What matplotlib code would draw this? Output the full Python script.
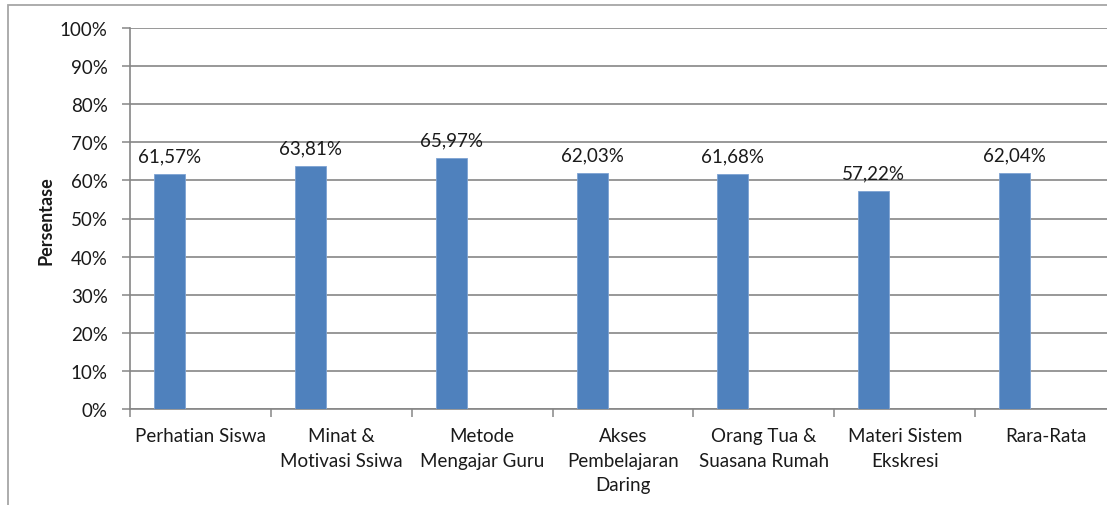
import numpy as np
import matplotlib
matplotlib.use("Agg")
import matplotlib.pyplot as plt
from matplotlib.patches import Rectangle

# data
categories = ["Perhatian Siswa", "Minat &\nMotivasi Ssiwa", "Metode\nMengajar Guru",
              "Akses\nPembelajaran\nDaring", "Orang Tua &\nSuasana Rumah",
              "Materi Sistem\nEkskresi", "Rara-Rata"]
values = [61.57, 63.81, 65.97, 62.03, 61.68, 57.22, 62.04]
value_labels = ["61,57%", "63,81%", "65,97%", "62,03%", "61,68%", "57,22%", "62,04%"]
y_ticks = list(range(0, 101, 10))

BAR_COLOR = "#4F81BD"
GRID_COLOR = "#868686"

plt.rcParams['font.family'] = ['Lato', 'DejaVu Sans']

W, H = 1107, 506
fig = plt.figure(figsize=(W / 100, H / 100), dpi=100)

# outer chart border (cropped on the right and bottom in the reference)
fig.patches.append(Rectangle((7.5 / W, -0.1), 1.2, 1 - 5.5 / H + 0.1,
                             transform=fig.transFigure, fill=False,
                             edgecolor="#a6a6a6", linewidth=1.3))

# plot area runs a little past the right edge of the image
left, right, top, bottom = 130, 1116, 29, 410
ax = fig.add_axes([left / W, 1 - bottom / H, (right - left) / W, (bottom - top) / H])

x = np.arange(len(categories))
bar_w = 0.22
ax.bar(x - 0.22, values, width=bar_w, color=BAR_COLOR, edgecolor="#7ea3d3",
       linewidth=0.6, zorder=3)

for xi, v, lab in zip(x, values, value_labels):
    ax.annotate(lab, (xi - 0.22, v), xytext=(0, 7), textcoords="offset points",
                ha="center", va="bottom", fontsize=13.5, color="#1a1a1a")

ax.set_xlim(-0.5, len(categories) - 0.5)
ax.set_ylim(0, 100)
ax.set_yticks(y_ticks)
ax.set_yticklabels([f"{t}%" for t in y_ticks])
ax.yaxis.grid(True, color=GRID_COLOR, linewidth=1.2, zorder=0)
ax.set_axisbelow(True)

ax.set_xticks(x)
ax.set_xticklabels(categories, fontsize=13.5, linespacing=1.55)
ax.set_xticks(np.arange(len(categories) + 1) - 0.5, minor=True)
ax.tick_params(axis="x", which="major", length=0, pad=13, colors="#1a1a1a")
ax.tick_params(axis="x", which="minor", length=6, width=1.1, color=GRID_COLOR)
ax.tick_params(axis="y", length=6, width=1.1, color=GRID_COLOR, pad=10,
               labelsize=13.5, labelcolor="#1a1a1a")

for s in ["top", "right"]:
    ax.spines[s].set_visible(False)
for s in ["left", "bottom"]:
    ax.spines[s].set_color(GRID_COLOR)
    ax.spines[s].set_linewidth(1.2)

fig.text(46 / W, 1 - 221 / H, "Persentase", rotation=90, ha="center", va="center",
         fontsize=13, fontweight="bold", color="#1a1a1a")

fig.savefig("out.png", dpi=100)
